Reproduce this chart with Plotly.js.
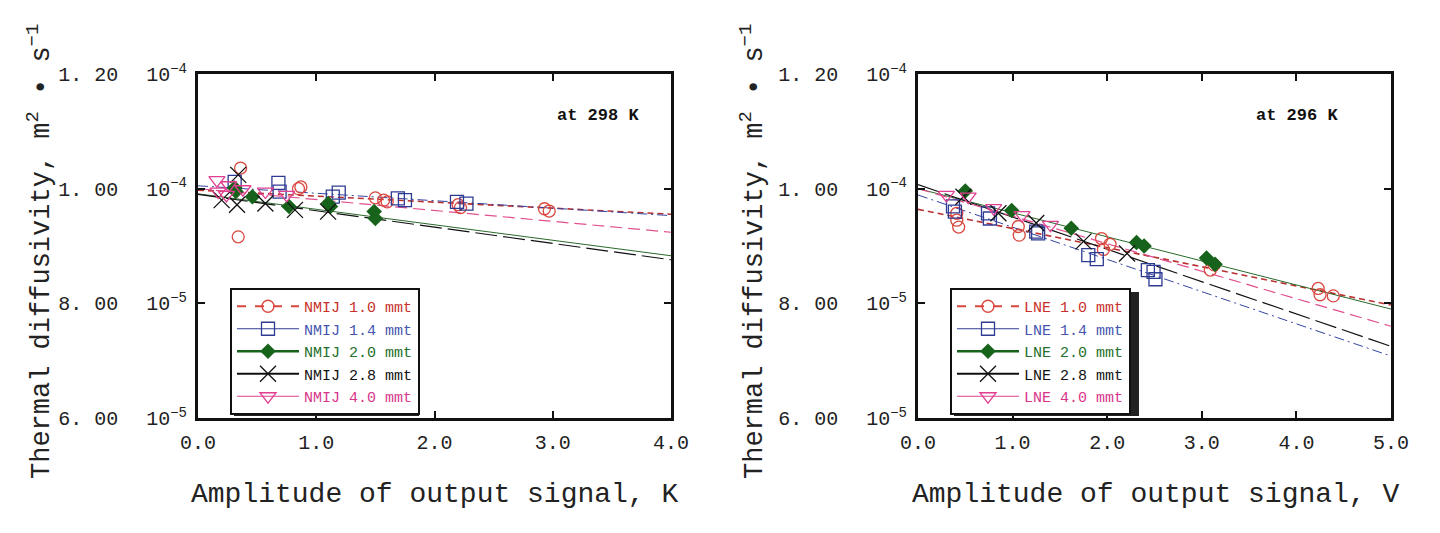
<!DOCTYPE html>
<html>
<head>
<meta charset="utf-8">
<script src="https://cdn.plot.ly/plotly-3.0.1.min.js"></script>
<style>html,body{margin:0;padding:0;background:#fff;}#chart{width:1440px;height:533px;}</style>
</head>
<body>
<div id="chart"></div>
<script>
// Thermal diffusivity values in units of 1e-5 m^2/s
// ---- Left panel: NMIJ, at 298 K (x: amplitude, K)
const nmij10x = [0.36, 0.34, 0.85, 0.87, 1.50, 1.57, 1.60, 2.20, 2.22, 2.93, 2.97];
const nmij10y = [10.36, 9.16, 10.00, 10.03, 9.84, 9.80, 9.77, 9.72, 9.67, 9.65, 9.61];
const nmij14x = [0.31, 0.68, 0.69, 1.14, 1.19, 1.69, 1.75, 2.19, 2.27];
const nmij14y = [10.12, 10.10, 9.95, 9.86, 9.93, 9.83, 9.80, 9.77, 9.74];
const nmij20x = [0.31, 0.32, 0.46, 0.77, 1.10, 1.12, 1.49, 1.50];
const nmij20y = [10.01, 9.95, 9.86, 9.69, 9.74, 9.69, 9.60, 9.48];
const nmij28x = [0.20, 0.34, 0.33, 0.57, 0.82, 1.10];
const nmij28y = [9.80, 10.24, 9.72, 9.74, 9.63, 9.60];
const nmij40x = [0.16, 0.17, 0.24, 0.26, 0.38, 0.57, 0.75];
const nmij40y = [10.15, 9.95, 9.89, 10.06, 9.99, 9.95, 9.89];
// fitted lines: value at x = 0 and at x = 4.0
const nmijFitX = [0, 4.0];
const nmijFit10 = [9.975, 9.555];
const nmijFit14 = [10.05, 9.53];
const nmijFit20 = [9.91, 8.83];
const nmijFit28 = [9.90, 8.76];
const nmijFit40 = [10.00, 9.24];

// ---- Right panel: LNE, at 296 K (x: amplitude, V)
const lne10x = [0.41, 0.41, 0.43, 1.06, 1.07, 1.94, 2.03, 1.96, 3.09, 3.13, 4.23, 4.25, 4.39];
const lne10y = [9.57, 9.45, 9.33, 9.34, 9.19, 9.13, 9.03, 8.94, 8.58, 8.67, 8.26, 8.15, 8.13];
const lne14x = [0.37, 0.39, 0.74, 0.76, 1.25, 1.27, 1.80, 1.89, 2.43, 2.49, 2.51];
const lne14y = [9.69, 9.60, 9.57, 9.48, 9.25, 9.22, 8.84, 8.77, 8.58, 8.55, 8.42];
const lne20x = [0.50, 0.99, 1.62, 2.31, 2.39, 3.05, 3.14];
const lne20y = [9.96, 9.62, 9.31, 9.06, 9.00, 8.79, 8.68];
const lne28x = [0.48, 0.85, 1.25, 1.75, 2.21];
const lne28y = [9.86, 9.57, 9.40, 9.08, 8.87];
const lne40x = [0.30, 0.53, 0.80, 1.10, 1.40];
const lne40y = [9.89, 9.86, 9.66, 9.54, 9.37];
const lneFitX = [0, 5.0];
const lneFit10 = [9.64, 7.97];
const lneFit14 = [9.89, 7.08];
const lneFit20 = [10.00, 7.90];
const lneFit28 = [10.07, 7.25];
const lneFit40 = [10.00, 7.60];

const yTickVals = [6, 8, 10, 12];
const yTickText = ['6. 00 \u2009 10<sup>−5</sup>', '8. 00 \u2009 10<sup>−5</sup>', '1. 00 \u2009 10<sup>−4</sup>', '1. 20 \u2009 10<sup>−4</sup>'];
const xLeftTicks = [0, 1, 2, 3, 4];
const xLeftText = ['0.0', '1.0', '2.0', '3.0', '4.0'];
const xRightTicks = [0, 1, 2, 3, 4, 5];
const xRightText = ['0.0', '1.0', '2.0', '3.0', '4.0', '5.0'];

const FONT = 'Liberation Mono, DejaVu Sans Mono, monospace';

// series styles
const styles = [
  {mc: '#d9473f', sym: 'circle-open', ms: 12, tc: '#c8302a', lc: '#b83030', dash: '6px,4px', legDash: 'dash', legW: 2, fitW: 1.6},
  {mc: '#2e3b92', sym: 'square-open', ms: 13, tc: '#4555b0', lc: '#3545a0', dash: '10px,4px,2px,4px', legDash: 'solid', legW: 1, fitW: 1},
  {mc: '#17631c', sym: 'diamond', ms: 12, tc: '#24702a', lc: '#2a6a2a', dash: 'solid', legDash: 'solid', legW: 2.5, fitW: 1},
  {mc: '#111111', sym: 'x-thin-open', ms: 16, tc: '#111111', lc: '#111111', dash: '22px,6px', legDash: 'solid', legW: 2, fitW: 1.2},
  {mc: '#e0408f', sym: 'triangle-down-open', ms: 14, tc: '#d8358a', lc: '#e05090', dash: '12px,6px', legDash: 'solid', legW: 1, fitW: 1.2}
];

// interleave nulls so each point is isolated (legend shows a line, plot shows only markers)
function isolate(arr) { const out = []; arr.forEach(v => { out.push(v); out.push(null); }); return out; }

function panel(prefix, names, xs, ys, fitX, fits, xa, ya, legendId) {
  const tr = [];
  for (let i = 0; i < 5; i++) {
    const s = styles[i];
    tr.push({
      x: fitX, y: fits[i], xaxis: xa, yaxis: ya, mode: 'lines', showlegend: false, hoverinfo: 'skip',
      line: {color: s.lc, width: s.fitW, dash: s.dash}
    });
  }
  for (let i = 0; i < 5; i++) {
    const s = styles[i];
    tr.push({
      x: isolate(xs[i]), y: isolate(ys[i]), xaxis: xa, yaxis: ya, mode: 'lines+markers', connectgaps: false,
      name: '<span style="color:' + s.tc + '">' + prefix + ' ' + names[i] + ' mmt</span>',
      legend: legendId,
      line: {color: s.mc, width: s.legW, dash: s.legDash},
      marker: {symbol: s.sym, size: s.ms, color: s.mc, line: {color: s.mc, width: s.sym === 'diamond' ? 0 : 1.3}}
    });
  }
  return tr;
}

const names = ['1.0', '1.4', '2.0', '2.8', '4.0'];
const traces = [].concat(
  panel('NMIJ', names, [nmij10x, nmij14x, nmij20x, nmij28x, nmij40x], [nmij10y, nmij14y, nmij20y, nmij28y, nmij40y],
        nmijFitX, [nmijFit10, nmijFit14, nmijFit20, nmijFit28, nmijFit40], 'x', 'y', 'legend'),
  panel('LNE', names, [lne10x, lne14x, lne20x, lne28x, lne40x], [lne10y, lne14y, lne20y, lne28y, lne40y],
        lneFitX, [lneFit10, lneFit14, lneFit20, lneFit28, lneFit40], 'x2', 'y2', 'legend2')
);

function xaxis(domain, ticks, text, anchor) {
  return {
    domain: domain, range: [0, ticks[ticks.length - 1]], anchor: anchor,
    tickmode: 'array', tickvals: ticks, ticktext: text,
    ticks: 'inside', ticklen: 7, tickwidth: 2, tickcolor: '#111',
    showline: true, linecolor: '#111', linewidth: 3, mirror: 'ticks',
    showgrid: false, zeroline: false, ticklabelstandoff: 4,
    tickfont: {family: FONT, size: 20, color: '#222'}
  };
}
function yaxis(anchor) {
  return {
    range: [6, 12], anchor: anchor,
    tickmode: 'array', tickvals: yTickVals, ticktext: yTickText,
    ticks: 'inside', ticklen: 7, tickwidth: 2, tickcolor: '#111',
    showline: true, linecolor: '#111', linewidth: 3, mirror: 'ticks',
    showgrid: false, zeroline: false, ticklabelstandoff: 4,
    tickfont: {family: FONT, size: 20, color: '#222'}
  };
}

const L1 = 198 / 1440, R1 = 671 / 1440, L2 = 918 / 1440, R2 = 1391 / 1440;
const H = 344;
function py(pix) { return (418 - pix) / H; }

const legendBase = {
  xanchor: 'left', yanchor: 'top', bgcolor: '#fff', bordercolor: '#111', borderwidth: 2,
  font: {family: FONT, size: 15, color: '#111'}, itemwidth: 62, tracegroupgap: 0,
  traceorder: 'normal', itemclick: false
};

function ann(text, xp, yp, size, extra) {
  return Object.assign({text: text, xref: 'paper', yref: 'paper', x: xp / 1440, y: py(yp), xanchor: 'center', yanchor: 'middle',
    showarrow: false, font: {family: FONT, size: size, color: '#222'}}, extra || {});
}

const layout = {
  width: 1440, height: 533,
  margin: {l: 0, r: 0, t: 74, b: 115},
  paper_bgcolor: '#fff', plot_bgcolor: '#fff',
  showlegend: true,
  xaxis: xaxis([L1, R1], xLeftTicks, xLeftText, 'y'),
  yaxis: yaxis('x'),
  xaxis2: xaxis([L2, R2], xRightTicks, xRightText, 'y2'),
  yaxis2: yaxis('x2'),
  legend: Object.assign({x: 230 / 1440, y: py(288)}, legendBase),
  legend2: Object.assign({x: 950 / 1440, y: py(288)}, legendBase),
  shapes: [
    {type: 'rect', xref: 'paper', yref: 'paper', x0: 234 / 1440, x1: 419 / 1440, y0: py(416), y1: py(292), fillcolor: '#222', line: {width: 0}, layer: 'above'},
    {type: 'rect', xref: 'paper', yref: 'paper', x0: 954 / 1440, x1: 1139 / 1440, y0: py(416), y1: py(292), fillcolor: '#222', line: {width: 0}, layer: 'above'}
  ],
  annotations: [
    ann('<b>at 298 K</b>', 598, 115, 17, {font: {family: FONT, size: 17, color: '#111'}}),
    ann('<b>at 296 K</b>', 1297, 115, 17, {font: {family: FONT, size: 17, color: '#111'}}),
    ann('Thermal diffusivity, m<sup>2</sup> • s<sup>−1</sup>', 39, 252, 27, {textangle: -90}),
    ann('Thermal diffusivity, m<sup>2</sup> • s<sup>−1</sup>', 752, 252, 27, {textangle: -90}),
    ann('Amplitude of output signal, K', 434, 494, 28),
    ann('Amplitude of output signal, V', 1155, 494, 28)
  ]
};

Plotly.newPlot('chart', traces, layout, {staticPlot: true, displayModeBar: false});
</script>
</body>
</html>
